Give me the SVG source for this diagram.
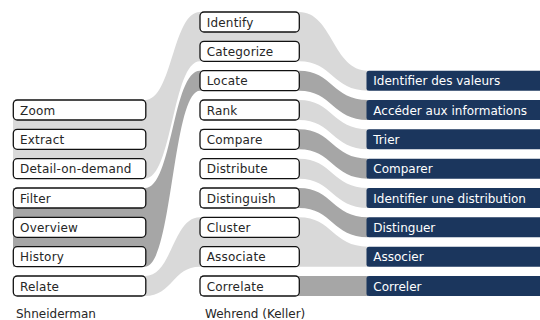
<svg xmlns="http://www.w3.org/2000/svg" width="540" height="320" viewBox="0 0 540 320">
<style>
.light{fill:#d9d9d9}
.dark{fill:#a6a6a6}
.box rect{fill:#fff;stroke:#111;stroke-width:1.3}
.box text{font-family:"DejaVu Sans","Liberation Sans",sans-serif;font-size:12px;fill:#262626;letter-spacing:0.2px}
.out rect{fill:#1b365d}
.out text{font-family:"DejaVu Sans","Liberation Sans",sans-serif;font-size:12px;fill:#fff}
.cap{font-family:"DejaVu Sans","Liberation Sans",sans-serif;font-size:12px;fill:#262626}
</style>
<rect width="540" height="320" fill="#fff"/>
<g id="connectors">
<path class="light" d="M13,100 H145 C172.5,100 172.5,12 200,12 V61.33 C172.5,61.33 172.5,178.67 145,178.67 H13 Z"/>
<path class="dark" d="M13,188 H145 C172.5,188 172.5,70.67 200,70.67 V90.67 C172.5,90.67 172.5,266.67 145,266.67 H13 Z"/>
<path class="light" d="M13,276 H145 C172.5,276 172.5,217.33 200,217.33 V266.67 C172.5,266.67 172.5,296 145,296 H13 Z"/>
<path class="light" d="M200,12 H299 C332.5,12 332.5,70.67 368,70.67 V90.67 C332.5,90.67 332.5,61.33 299,61.33 H200 Z"/>
<path class="dark" d="M200,70.67 H299 C332.5,70.67 332.5,100 368,100 V120 C332.5,120 332.5,90.67 299,90.67 H200 Z"/>
<path class="light" d="M200,100 H299 C332.5,100 332.5,129.33 368,129.33 V149.33 C332.5,149.33 332.5,120 299,120 H200 Z"/>
<path class="dark" d="M200,129.33 H299 C332.5,129.33 332.5,158.67 368,158.67 V178.67 C332.5,178.67 332.5,149.33 299,149.33 H200 Z"/>
<path class="light" d="M200,158.67 H299 C332.5,158.67 332.5,188 368,188 V208 C332.5,208 332.5,178.67 299,178.67 H200 Z"/>
<path class="dark" d="M200,188 H299 C332.5,188 332.5,217.33 368,217.33 V237.33 C332.5,237.33 332.5,208 299,208 H200 Z"/>
<path class="light" d="M200,217.33 H299 C332.5,217.33 332.5,246.67 368,246.67 V266.67 C332.5,266.67 332.5,266.67 299,266.67 H200 Z"/>
<path class="dark" d="M200,276 H368 V296 H200 Z"/>
</g>
<g id="shneiderman">
<g id="n-zoom" class="box"><rect x="13.3" y="100" width="132.5" height="20" rx="4"/><text x="20" y="114.5">Zoom</text></g>
<g id="n-extract" class="box"><rect x="13.3" y="129.33" width="132.5" height="20" rx="4"/><text x="20" y="143.8">Extract</text></g>
<g id="n-detail" class="box"><rect x="13.3" y="158.67" width="132.5" height="20" rx="4"/><text x="20" y="173.2">Detail-on-demand</text></g>
<g id="n-filter" class="box"><rect x="13.3" y="188" width="132.5" height="20" rx="4"/><text x="20" y="202.5">Filter</text></g>
<g id="n-overview" class="box"><rect x="13.3" y="217.33" width="132.5" height="20" rx="4"/><text x="20" y="231.8">Overview</text></g>
<g id="n-history" class="box"><rect x="13.3" y="246.67" width="132.5" height="20" rx="4"/><text x="20" y="261.2">History</text></g>
<g id="n-relate" class="box"><rect x="13.3" y="276" width="132.5" height="20" rx="4"/><text x="20" y="290.5">Relate</text></g>
</g>
<g id="wehrend">
<g id="n-identify" class="box"><rect x="200" y="12" width="99.3" height="20" rx="4"/><text x="206.7" y="26.5">Identify</text></g>
<g id="n-categorize" class="box"><rect x="200" y="41.33" width="99.3" height="20" rx="4"/><text x="206.7" y="55.8">Categorize</text></g>
<g id="n-locate" class="box"><rect x="200" y="70.67" width="99.3" height="20" rx="4"/><text x="206.7" y="85.2">Locate</text></g>
<g id="n-rank" class="box"><rect x="200" y="100" width="99.3" height="20" rx="4"/><text x="206.7" y="114.5">Rank</text></g>
<g id="n-compare" class="box"><rect x="200" y="129.33" width="99.3" height="20" rx="4"/><text x="206.7" y="143.8">Compare</text></g>
<g id="n-distribute" class="box"><rect x="200" y="158.67" width="99.3" height="20" rx="4"/><text x="206.7" y="173.2">Distribute</text></g>
<g id="n-distinguish" class="box"><rect x="200" y="188" width="99.3" height="20" rx="4"/><text x="206.7" y="202.5">Distinguish</text></g>
<g id="n-cluster" class="box"><rect x="200" y="217.33" width="99.3" height="20" rx="4"/><text x="206.7" y="231.8">Cluster</text></g>
<g id="n-associate" class="box"><rect x="200" y="246.67" width="99.3" height="20" rx="4"/><text x="206.7" y="261.2">Associate</text></g>
<g id="n-correlate" class="box"><rect x="200" y="276" width="99.3" height="20" rx="4"/><text x="206.7" y="290.5">Correlate</text></g>
</g>
<g id="francais">
<g id="o-identifier-valeurs" class="out"><rect x="366.5" y="70.67" width="180" height="20" rx="2.5"/><text x="373.3" y="85.2">Identifier des valeurs</text></g>
<g id="o-acceder" class="out"><rect x="366.5" y="100" width="180" height="20" rx="2.5"/><text x="373.3" y="114.5">Accéder aux informations</text></g>
<g id="o-trier" class="out"><rect x="366.5" y="129.33" width="180" height="20" rx="2.5"/><text x="373.3" y="143.8">Trier</text></g>
<g id="o-comparer" class="out"><rect x="366.5" y="158.67" width="180" height="20" rx="2.5"/><text x="373.3" y="173.2">Comparer</text></g>
<g id="o-identifier-distribution" class="out"><rect x="366.5" y="188" width="180" height="20" rx="2.5"/><text x="373.3" y="202.5">Identifier une distribution</text></g>
<g id="o-distinguer" class="out"><rect x="366.5" y="217.33" width="180" height="20" rx="2.5"/><text x="373.3" y="231.8">Distinguer</text></g>
<g id="o-associer" class="out"><rect x="366.5" y="246.67" width="180" height="20" rx="2.5"/><text x="373.3" y="261.2">Associer</text></g>
<g id="o-correler" class="out"><rect x="366.5" y="276" width="180" height="20" rx="2.5"/><text x="373.3" y="290.5">Correler</text></g>
</g>
<text class="cap" x="16" y="318">Shneiderman</text>
<text class="cap" x="205" y="318">Wehrend (Keller)</text>
</svg>
